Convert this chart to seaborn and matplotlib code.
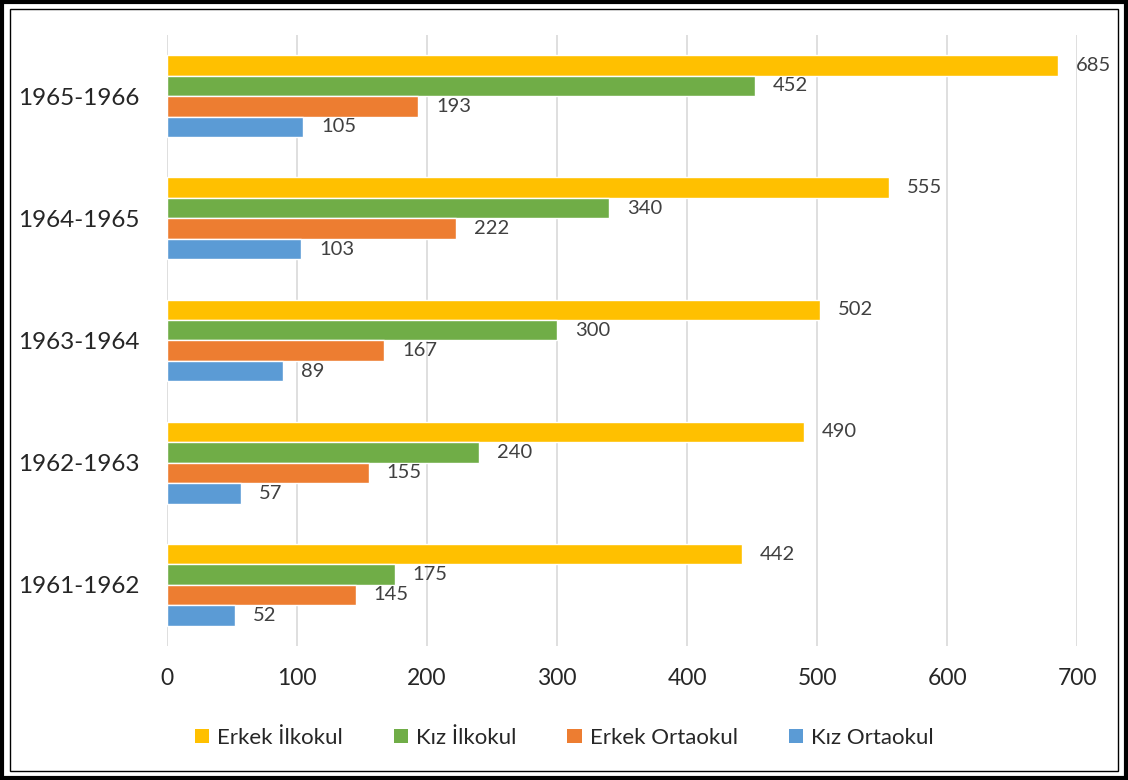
import matplotlib
matplotlib.use("Agg")
import matplotlib.pyplot as plt
import seaborn as sns
import pandas as pd
from matplotlib.patches import Patch, Rectangle

# data
years = ["1965-1966", "1964-1965", "1963-1964", "1962-1963", "1961-1962"]
series = ["Erkek İlkokul", "Kız İlkokul", "Erkek Ortaokul", "Kız Ortaokul"]
erkek_ilkokul = [685, 555, 502, 490, 442]
kiz_ilkokul = [452, 340, 300, 240, 175]
erkek_ortaokul = [193, 222, 167, 155, 145]
kiz_ortaokul = [105, 103, 89, 57, 52]
colors = ["#FFC000", "#70AD47", "#ED7D31", "#5B9BD5"]

rows = []
for name, vals in zip(series, [erkek_ilkokul, kiz_ilkokul, erkek_ortaokul, kiz_ortaokul]):
    for y, v in zip(years, vals):
        rows.append({"Yıl": y, "Seri": name, "Değer": v})
df = pd.DataFrame(rows)

sns.set_style("white")
plt.rcParams["font.family"] = ["Lato", "DejaVu Sans"]

fig = plt.figure(figsize=(11.28, 7.80), dpi=100)
ax = fig.add_axes([0.148, 0.172, 0.807, 0.783])

sns.barplot(data=df, y="Yıl", x="Değer", hue="Seri", order=years,
            hue_order=series, palette=colors, orient="h", width=0.67,
            saturation=1, ax=ax, legend=False)

for cont in ax.containers:
    ax.bar_label(cont, padding=13, fontsize=14.5, color="#404040")

ax.set_xlim(0, 700)
ax.set_xticks(range(0, 701, 100))
ax.set_xlabel("")
ax.set_ylabel("")
ax.grid(axis="x", color="#D9D9D9", linewidth=1.2)
ax.set_axisbelow(True)
for s in ax.spines.values():
    s.set_visible(False)
ax.tick_params(axis="y", length=0, pad=20, labelsize=17.5)
ax.tick_params(axis="x", length=0, pad=16, labelsize=16.5)

handles = [Patch(facecolor=c, edgecolor="none") for c in colors]
fig.legend(handles, series, loc="center", bbox_to_anchor=(0.5, 0.054), ncol=4,
           frameon=False, fontsize=16, handlelength=0.65, handleheight=0.65,
           handletextpad=0.35, columnspacing=2.3)

# double border around the picture
fig.patches.append(Rectangle((0.0018, 0.0026), 0.9964, 0.9948, transform=fig.transFigure,
                             fill=False, edgecolor="black", linewidth=3.0))
fig.patches.append(Rectangle((0.0085, 0.0115), 0.9830, 0.9770, transform=fig.transFigure,
                             fill=False, edgecolor="black", linewidth=1.0))

fig.savefig("out.png", dpi=100)
